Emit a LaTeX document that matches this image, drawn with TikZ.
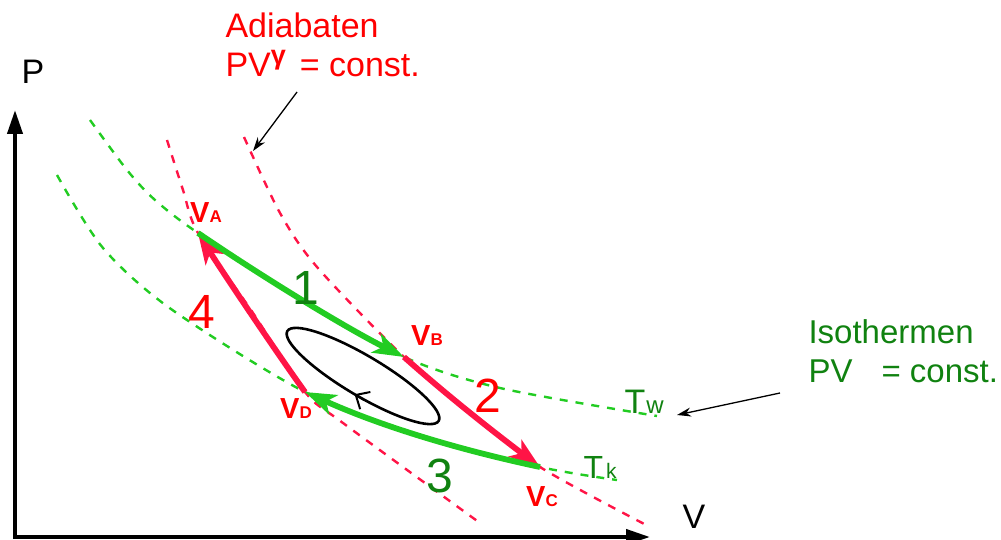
\documentclass[tikz,border=0pt]{standalone}
\usepackage{fontspec}
\setmainfont{Liberation Sans}
\usetikzlibrary{calc, arrows.meta, shapes.geometric}

\definecolor{adiared}{RGB}{255,20,70}
\definecolor{labred}{RGB}{255,0,0}
\definecolor{isogreen}{RGB}{34,204,34}
\definecolor{labgreen}{RGB}{16,130,16}
\newcommand{\setfs}[1]{\fontsize{#1}{#1}\selectfont}

\begin{document}
\begin{tikzpicture}[x=1pt, y=-1pt,
  axis/.style={line width=4pt, {Triangle[length=24pt, width=15pt]}-{Triangle[length=24pt, width=15pt]}},
  adia/.style={adiared, line width=2.4pt, dash pattern=on 8pt off 8pt},
  iso/.style={isogreen, line width=2.4pt, dash pattern=on 8pt off 8pt},
  stroke/.style={line width=5.8pt, -{Stealth[length=31pt, width=21pt, inset=8pt]}},
  pointer/.style={line width=1.3pt, -{Stealth[length=14pt, width=9pt]}},
  vlabel/.style={labred, font=\setfs{29}\bfseries},
  num/.style={font=\setfs{48}}]
  \useasboundingbox (0,0) rectangle (1001,540);
  % axes
  \coordinate (O) at (15,537);
  \coordinate (Ptop) at (15,110);
  \coordinate (Vend) at (650,537);
  \draw[axis] (Ptop) -- (O) -- (Vend);
  \node[font=\setfs{34}] (plab) at (33,72) {P};
  \node[font=\setfs{34}] (vlab) at (694,517) {V};
  % cycle corners
  \coordinate (A) at (198,233);
  \coordinate (B) at (404,357);
  \coordinate (C) at (540,467);
  \coordinate (D) at (305,392);
  % isotherms and adiabats
  \draw[iso] plot[smooth] coordinates {(90,120) (127,170) (155,200) (A) (301,299) (B) (500,388) (657,416)};
  \draw[iso] plot[smooth] coordinates {(57,175) (103,248) (171,309) (D) (421,436) (C) (617,480)};
  \draw[adia] plot[smooth] coordinates {(167,140) (183,190) (A) (253,313) (D) (343,423) (480,523)};
  \draw[adia] plot[smooth] coordinates {(244,137) (280,213) (317,267) (B) (472,413) (C) (650,527)};
  % inner cycle
  \node[ellipse, draw, line width=2.6pt, minimum width=176pt, minimum height=40pt,
        inner sep=0pt, outer sep=0pt, rotate=-30.7] (cyc) at (363,376) {};
  \coordinate (cycw) at ($(cyc.south)+(cyc.west)-(cyc.center)$);
  \draw[line width=2pt, -{Straight Barb[length=11pt, width=20pt]}]
    ($(cyc.south)!-14pt!(cycw)$) -- ($(cyc.south)!-2pt!(cycw)$);
  % the four steps
  \draw[stroke, adiared] (D) .. controls (270,343) and (220,268) .. (A);
  \draw[stroke, isogreen] (A) .. controls (258,274) and (344,327) .. (B);
  \draw[stroke, adiared] (B) .. controls (449,397) and (495,433) .. (C);
  \draw[stroke, isogreen] (C) .. controls (460,450) and (383,427) .. (D);
  \node[num, labgreen] (n1) at (306,288) {1};
  \node[num, labred] (n2) at (488,396) {2};
  \node[num, labgreen] (n3) at (440,476) {3};
  \node[num, labred] (n4) at (202,312) {4};
  \node[vlabel] (va) at (206,213) {V{\setfs{17}A}};
  \node[vlabel] (vb) at (427,336) {V{\setfs{17}B}};
  \node[vlabel] (vc) at (542,497) {V{\setfs{17}C}};
  \node[vlabel] (vd) at (296,409) {V{\setfs{17}D}};
  \node[labgreen, anchor=base west, font=\setfs{34}] (tw) at (621,413) {T\hspace{1pt}{\setfs{24}w}};
  \node[labgreen, anchor=base west, font=\setfs{32}] (tk) at (580,478) {T\hspace{3pt}{\setfs{21}k}};
  % legends
  \node[labred, anchor=base west, font=\setfs{34}] (adiatxt) at (222,38) {Adiabaten};
  \node[labred, anchor=base west, font=\setfs{34}] (adiaeq) at (222,77)
    {PV\raisebox{12pt}{\setfs{27}\bfseries γ}\hspace{14pt}= const.};
  \node[labgreen, anchor=base west, font=\setfs{33}] (isotxt) at (805,343) {Isothermen};
  \node[labgreen, anchor=base west, font=\setfs{33}] (isoeq) at (805,382) {PV\hspace{29pt}= const.};
  \coordinate (adiatail) at (297,92);
  \coordinate (adiatip) at (253,151);
  \draw[pointer] (adiatail) -- (adiatip);
  \coordinate (isotail) at (780,393);
  \coordinate (isotip) at (677,415);
  \draw[pointer] (isotail) -- (isotip);
\end{tikzpicture}
\end{document}
